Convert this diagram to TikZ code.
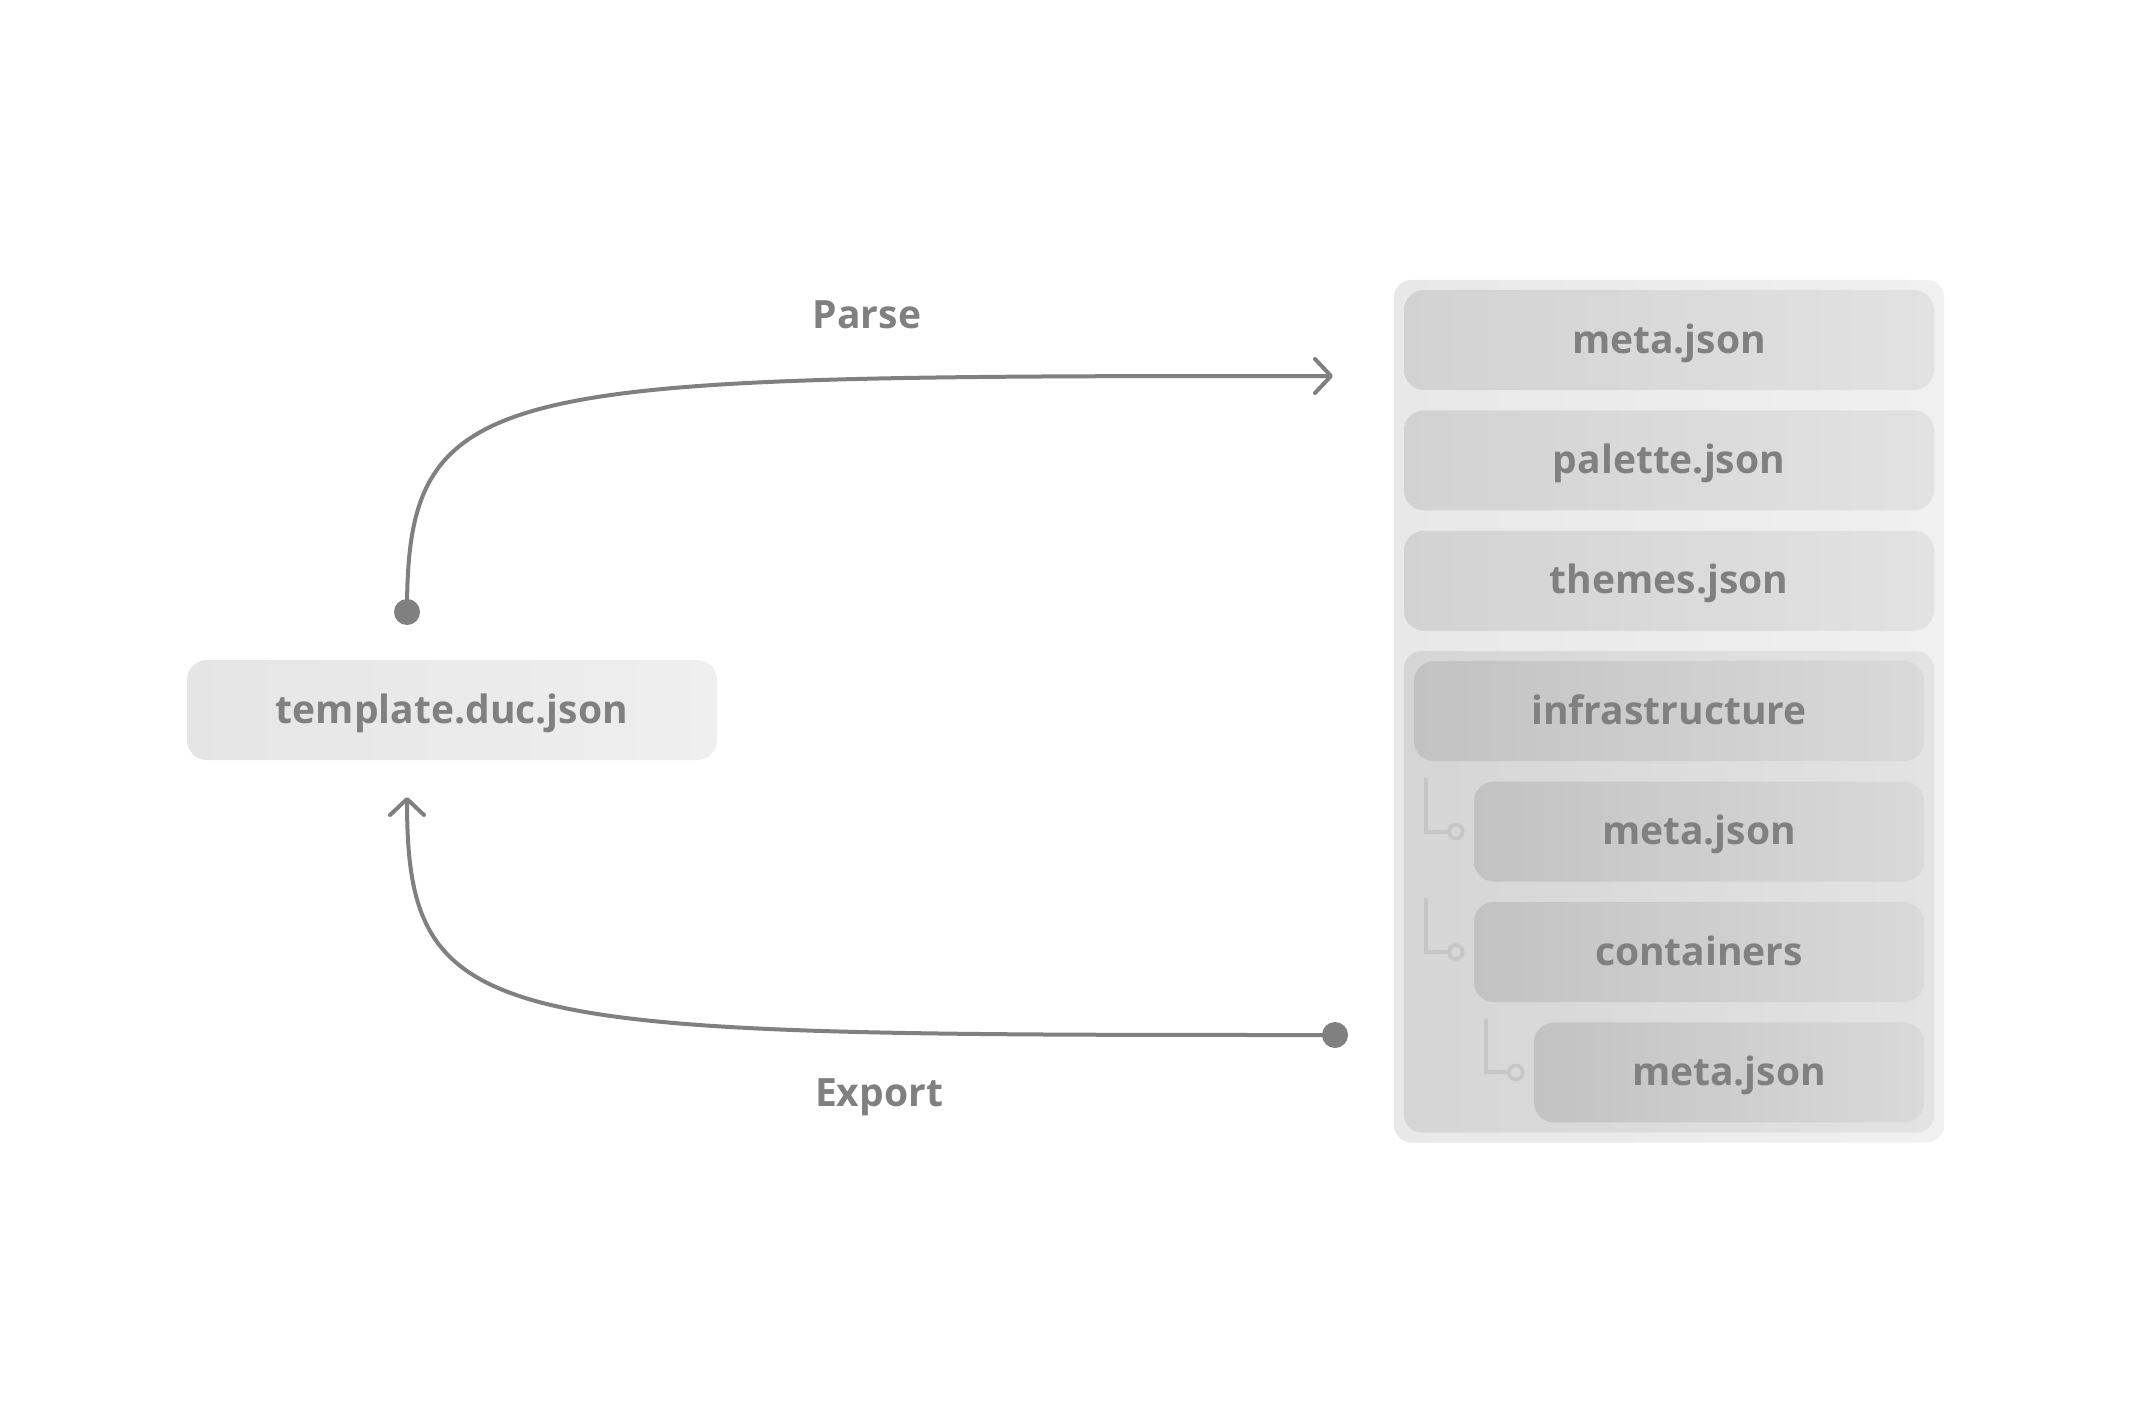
\documentclass[tikz,border=0pt]{standalone}
\usepackage{fontspec}
\setmainfont{Open Sans}
\usepackage{tikz}
\usetikzlibrary{positioning,fit,backgrounds,arrows.meta}
\definecolor{txtgray}{HTML}{808080}
\definecolor{treegray}{HTML}{C6C6C6}
\definecolor{tmpll}{HTML}{E5E5E5}
\definecolor{tmplr}{HTML}{EFEFEF}
\definecolor{panell}{HTML}{E8E8E8}
\definecolor{panelr}{HTML}{F0F0F0}
\definecolor{filel}{HTML}{D2D2D2}
\definecolor{filer}{HTML}{E2E2E2}
\definecolor{groupl}{HTML}{D5D5D5}
\definecolor{groupr}{HTML}{E3E3E3}
\definecolor{innerl}{HTML}{C2C2C2}
\definecolor{innerr}{HTML}{D9D9D9}
\newcommand{\boxfont}{\fontsize{39}{46}\selectfont\bfseries}
\tikzstyle{filebox} = [rounded corners=20pt, left color=filel, right color=filer, minimum width=530pt, minimum height=100pt, inner sep=0pt, text height=32pt, text depth=6pt, text=txtgray, font=\boxfont]
\tikzstyle{folderbox} = [filebox, left color=innerl, right color=innerr, minimum width=510pt]
\tikzstyle{childbox} = [filebox, left color=innerl, right color=innerr, minimum width=450pt]
\tikzstyle{panel} = [rounded corners=18pt, left color=panell, right color=panelr, inner sep=10pt]
\tikzstyle{groupbox} = [rounded corners=18pt, left color=groupl, right color=groupr, inner sep=10pt]
\tikzstyle{flow} = [draw=txtgray, line width=4pt, line cap=round, -{Straight Barb[length=16pt,width=34pt,round]}]
\tikzstyle{flowdot} = [circle, fill=txtgray, minimum size=26pt, inner sep=0pt]
\tikzstyle{actionlabel} = [text=txtgray, font=\boxfont]
\tikzstyle{treeline} = [draw=treegray, line width=4pt, line cap=round]
\tikzstyle{treedot} = [circle, draw=treegray, line width=3.5pt, minimum size=14pt, inner sep=0pt]
\begin{document}
\begin{tikzpicture}[x=1pt, y=-1pt]
\useasboundingbox (0,0) rectangle (2132,1420);

% left file
\node[filebox, left color=tmpll, right color=tmplr] (tmpl) at (452,710) {template.duc.json};

% right column
\node[filebox] (meta) at (1669,340) {meta.json};
\node[filebox, below=20pt of meta] (palette) {palette.json};
\node[filebox, below=20pt of palette] (themes) {themes.json};
\node[folderbox, below=30pt of themes] (infra) {infrastructure};
\node[childbox, below=20pt of infra.south east, anchor=north east] (infmeta) {meta.json};
\node[childbox, below=20pt of infmeta] (containers) {containers};
\node[childbox, minimum width=390pt, below=20pt of containers.south east, anchor=north east] (contmeta) {meta.json};
\coordinate (panelfoot) at ([yshift=-10pt]contmeta.south);

\begin{scope}[on background layer]
  \fill[white] (0,0) rectangle (2132,1420);
  \node[panel, fit=(meta)(panelfoot)] (outer) {};
  \node[groupbox, fit=(infra)(contmeta)] (group) {};
\end{scope}

% tree marks
\foreach \n in {infmeta,containers,contmeta}{
  \node[treedot] (d-\n) at ([xshift=-18pt]\n.west) {};
  \coordinate (t-\n) at ([xshift=-48pt,yshift=2pt]\n.north west);
  \draw[treeline] (t-\n) |- (d-\n);
}

% parse
\node[flowdot] (pdot) at (407,612) {};
\coordinate (ptip) at (1333,376);
\draw[flow] (pdot.center) .. controls +(0,-236) and +(-843,0) .. (ptip);
\node[actionlabel] (parse) at (867,315) {Parse};

% export
\node[flowdot] (edot) at (1335,1035) {};
\coordinate (etip) at (407,797);
\draw[flow] (edot.center) .. controls +(-845,0) and +(0,238) .. (etip);
\node[actionlabel] (export) at (879,1097) {Export};
\end{tikzpicture}
\end{document}
